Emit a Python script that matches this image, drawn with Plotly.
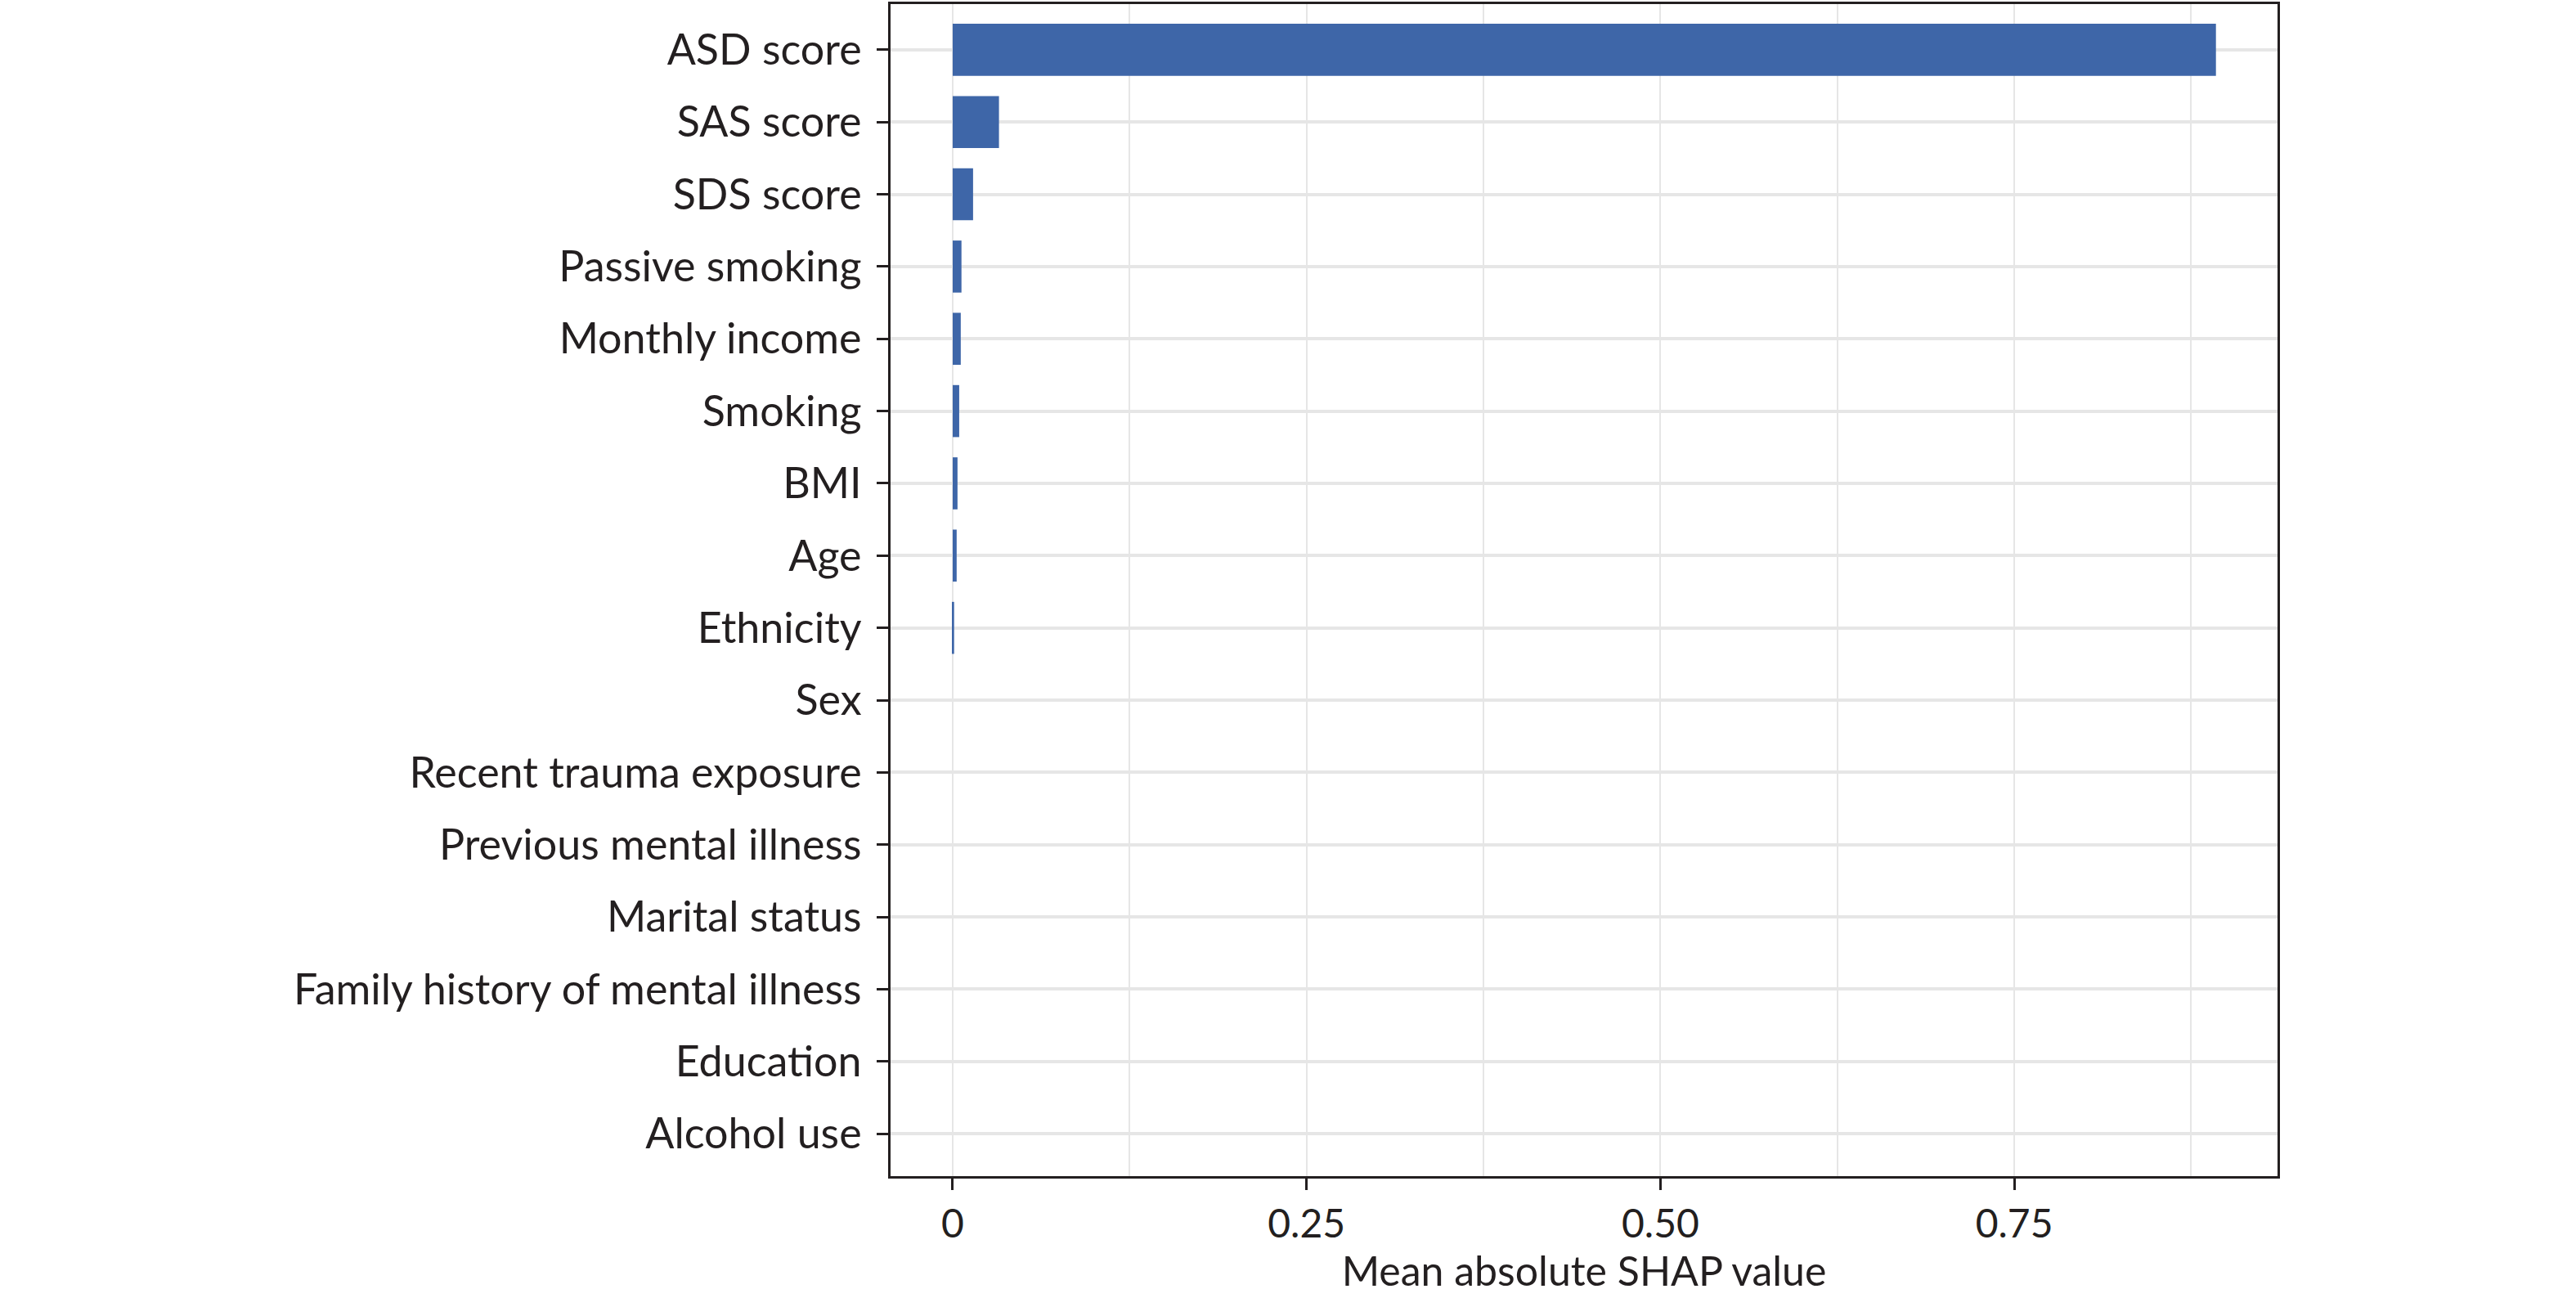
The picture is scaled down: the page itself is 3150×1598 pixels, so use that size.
import plotly.graph_objects as go

features = [
    "ASD score", "SAS score", "SDS score", "Passive smoking", "Monthly income",
    "Smoking", "BMI", "Age", "Ethnicity", "Sex", "Recent trauma exposure",
    "Previous mental illness", "Marital status", "Family history of mental illness",
    "Education", "Alcohol use",
]
shap_values = [
    0.8925, 0.0327, 0.0144, 0.0062, 0.0057, 0.0046, 0.0034, 0.0028, 0.0010,
    0.0, 0.0, 0.0, 0.0, 0.0, 0.0, 0.0,
]
tick_vals = [0, 0.25, 0.5, 0.75]
tick_text = ["0", "0.25", "0.50", "0.75"]

FONT = "Lato, Open Sans, sans-serif"
INK = "#231f20"
GRID = "#e6e6e6"

fig = go.Figure(
    go.Bar(
        x=shap_values,
        y=features,
        orientation="h",
        width=0.72,
        marker=dict(color="#3e66a8", line=dict(width=0)),
    )
)

fig.update_layout(
    width=3150,
    height=1598,
    margin=dict(l=1089, r=365, t=2, b=160),
    plot_bgcolor="white",
    paper_bgcolor="white",
    font=dict(family=FONT, size=52, color=INK),
    showlegend=False,
)
fig.update_xaxes(
    range=[-0.0439, 0.936],
    tickvals=tick_vals,
    ticktext=tick_text,
    tickfont=dict(size=48),
    ticks="outside",
    ticklen=14,
    tickwidth=3,
    tickcolor=INK,
    ticklabelstandoff=0,
    showline=True,
    linecolor=INK,
    linewidth=3,
    mirror=True,
    showgrid=True,
    gridcolor=GRID,
    gridwidth=2,
    minor=dict(dtick=0.125, tick0=0, showgrid=True, gridcolor=GRID, gridwidth=2),
    zeroline=False,
    title=dict(text="Mean absolute SHAP value", font=dict(size=50), standoff=12),
)
fig.update_yaxes(
    categoryorder="array",
    categoryarray=features,
    range=[15.587, -0.632],
    ticks="outside",
    ticklen=14,
    tickwidth=3,
    tickcolor=INK,
    showline=True,
    linecolor=INK,
    linewidth=3,
    mirror=True,
    showgrid=True,
    gridcolor=GRID,
    gridwidth=4,
    zeroline=False,
    ticklabelstandoff=8,
)

# drop the browser's default body margin so the figure sits at the page corner
fig.write_html(
    "out.html",
    config={"displayModeBar": False},
    post_script="document.body.style.margin='0';",
)
